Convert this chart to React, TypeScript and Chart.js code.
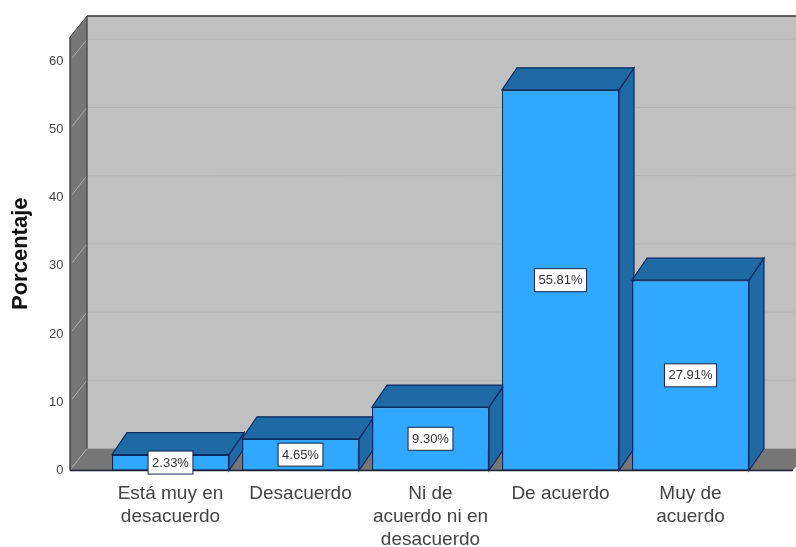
import React, { useEffect, useRef } from "react";
import { Chart, registerables } from "chart.js";

Chart.register(...registerables);

const categories = [
  ["Está muy en", "desacuerdo"],
  ["Desacuerdo"],
  ["Ni de", "acuerdo ni en", "desacuerdo"],
  ["De acuerdo"],
  ["Muy de", "acuerdo"],
];
const percentages = [2.33, 4.65, 9.3, 55.81, 27.91];
const yTicks = [0, 10, 20, 30, 40, 50, 60];
const yTitle = "Porcentaje";

const DX = 17;
const DY = 22;
const BAR_DX = 15;
const BAR_DY = 22;
const LEFT = 70;
const RIGHT = 793;
const WALL = "#c0c0c0";
const SIDE = "#767676";
const FACE = "#30a8ff";
const SHADE = "#1f6aa5";
const EDGE = "#0b2a63";

function poly(ctx: CanvasRenderingContext2D, pts: number[][], fill: string, stroke?: string) {
  ctx.beginPath();
  pts.forEach(([x, y], i) => (i ? ctx.lineTo(x, y) : ctx.moveTo(x, y)));
  ctx.closePath();
  ctx.fillStyle = fill;
  ctx.fill();
  if (stroke) {
    ctx.strokeStyle = stroke;
    ctx.lineWidth = 1.2;
    ctx.stroke();
  }
}

function line(ctx: CanvasRenderingContext2D, x1: number, y1: number, x2: number, y2: number, color: string, w = 1) {
  ctx.beginPath();
  ctx.moveTo(x1, y1);
  ctx.lineTo(x2, y2);
  ctx.strokeStyle = color;
  ctx.lineWidth = w;
  ctx.stroke();
}

const box3d = {
  id: "box3d",
  beforeDatasetsDraw(chart: any) {
    const { ctx, chartArea, scales } = chart;
    const y0 = scales.y.getPixelForValue(0);
    const top = chartArea.top;
    ctx.save();
    poly(ctx, [[LEFT + DX, top - DY + 1], [796, top - DY + 1], [796, y0 - DY], [LEFT + DX, y0 - DY]], WALL);
    poly(ctx, [[LEFT, top], [LEFT + DX, top - DY + 1], [LEFT + DX, y0 - DY], [LEFT, y0]], SIDE);
    poly(ctx, [[LEFT, y0], [LEFT + DX, y0 - DY], [796, y0 - DY], [796, y0 - 4], [RIGHT, y0]], SIDE);
    yTicks.slice(1).forEach((t) => {
      const py = scales.y.getPixelForValue(t);
      line(ctx, LEFT + DX, py - DY, 796, py - DY, "#b2b2b2");
      line(ctx, LEFT + 2, py - 3, LEFT + DX, py - DY, "#adadad");
    });
    line(ctx, LEFT + 2, y0 - 3, LEFT + DX, y0 - DY, "#adadad");
    line(ctx, LEFT, top, LEFT + DX, top - DY + 1, "#444444");
    line(ctx, LEFT + DX, top - DY + 1, 796, top - DY + 1, "#333333", 1.3);
    line(ctx, LEFT + DX, top - DY + 1, LEFT + DX, y0 - DY, "#444444", 1.3);
    line(ctx, LEFT, top, LEFT, y0, "#333333", 1.3);
    line(ctx, LEFT, y0, RIGHT, y0, "#1c2233", 1.3);

    chart.getDatasetMeta(0).data.forEach((bar: any) => {
      const l = bar.x - bar.width / 2;
      const r = bar.x + bar.width / 2;
      const t = bar.y;
      const b = bar.base;
      poly(ctx, [[r, t], [r + BAR_DX, t - BAR_DY], [r + BAR_DX, b - BAR_DY], [r, b]], SHADE, EDGE);
      poly(ctx, [[l, t], [l + BAR_DX, t - BAR_DY], [r + BAR_DX, t - BAR_DY], [r, t]], SHADE, EDGE);
    });
    ctx.restore();
  },
  afterDatasetsDraw(chart: any) {
    const { ctx } = chart;
    ctx.save();
    ctx.font = '13px "Liberation Sans"';
    ctx.textAlign = "center";
    ctx.textBaseline = "middle";
    chart.getDatasetMeta(0).data.forEach((bar: any, i: number) => {
      const label = percentages[i].toFixed(2) + "%";
      const w = ctx.measureText(label).width + 8;
      const h = 23;
      const cy = (bar.y + bar.base) / 2;
      ctx.fillStyle = "#ffffff";
      ctx.strokeStyle = "#16264a";
      ctx.lineWidth = 1;
      ctx.fillRect(bar.x - w / 2, cy - h / 2, w, h);
      ctx.strokeRect(bar.x - w / 2, cy - h / 2, w, h);
      ctx.fillStyle = "#333333";
      ctx.fillText(label, bar.x, cy + 0.5);
    });
    ctx.restore();
  },
};

export default function App() {
  const ref = useRef<HTMLCanvasElement>(null);
  useEffect(() => {
    const chart = new Chart(ref.current as HTMLCanvasElement, {
      type: "bar",
      data: {
        labels: categories as any,
        datasets: [
          {
            data: percentages,
            backgroundColor: FACE,
            borderColor: EDGE,
            borderWidth: 1.3,
            borderSkipped: false,
            categoryPercentage: 1,
            barPercentage: 0.9,
          },
        ],
      },
      options: {
        responsive: false,
        animation: false,
        devicePixelRatio: 1,
        layout: { autoPadding: false, padding: { top: 37, right: 40.5, bottom: 0, left: 0 } },
        plugins: { legend: { display: false }, tooltip: { enabled: false } },
        scales: {
          x: {
            grid: { display: false },
            border: { display: false },
            afterFit: (s: any) => {
              s.height = 76.5;
              s.paddingLeft = 0;
              s.paddingRight = 0;
            },
            ticks: {
              autoSkip: false,
              maxRotation: 0,
              minRotation: 0,
              padding: 4,
              color: "#444444",
              font: { family: "Liberation Sans", size: 19, lineHeight: 1.21 },
            },
          },
          y: {
            min: 0,
            max: 63.56,
            grid: { display: false },
            border: { display: false },
            afterFit: (s: any) => {
              s.width = 105.5;
              s.paddingTop = 0;
              s.paddingBottom = 0;
              if (s._margins) {
                s._margins.top = 0;
                s._margins.bottom = 0;
              }
            },
            title: {
              display: true,
              text: yTitle,
              color: "#111111",
              font: { family: "Liberation Sans", size: 22, weight: "bold" },
              padding: { top: 8, bottom: 0 },
            },
            ticks: {
              stepSize: 10,
              includeBounds: false,
              padding: 34,
              color: "#444444",
              font: { family: "Liberation Sans", size: 13 },
            },
          },
        },
      },
      plugins: [box3d],
    } as any);
    return () => chart.destroy();
  }, []);
  return (
    <div style={{ position: "fixed", left: 0, top: 0, width: 796, height: 547, background: "#ffffff", overflow: "hidden" }}>
      <canvas ref={ref} width={796} height={547} style={{ display: "block", filter: "blur(0.5px)" }} />
    </div>
  );
}
